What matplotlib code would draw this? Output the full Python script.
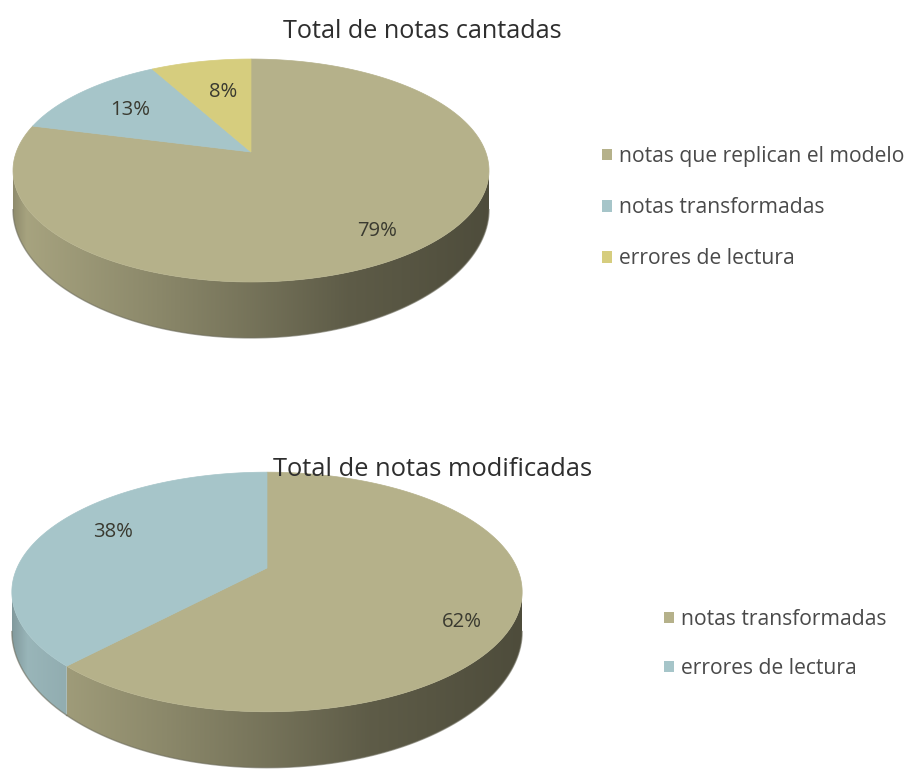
"""Two pseudo 3D pie charts, drawn in pixel space with a small perspective projection."""

import numpy as np
import matplotlib
matplotlib.use("Agg")
import matplotlib.pyplot as plt
from matplotlib.colors import to_rgb
from matplotlib.legend import Legend
from matplotlib.patches import Polygon, Patch

# Data
labels_top = ["notas que replican el modelo", "notas transformadas", "errores de lectura"]
values_top = [79, 13, 8]
title_top = "Total de notas cantadas"

labels_bottom = ["notas transformadas", "errores de lectura"]
values_bottom = [62, 38]
title_bottom = "Total de notas modificadas"

# Styles
OLIVE = "#b5b18a"
BLUE = "#a6c5c9"
YELLOW = "#d6cd7e"
TEXT = "#3a3a30"
FONT = ["Open Sans", "DejaVu Sans"]

colors_top = [OLIVE, BLUE, YELLOW]
colors_bottom = [OLIVE, BLUE]

# x fraction across the pie -> brightness of the side wall
shade_x = [0.0, 0.03, 0.3, 0.5, 0.7, 1.0]
shade_f = [0.78, 0.92, 0.77, 0.65, 0.52, 0.43]


def project(cx, cy, w, h, k, theta, r=1.0):
    """Disc point (angle clockwise from 12 o'clock, radius) to pixels."""
    u, v = r * np.sin(theta), r * np.cos(theta)
    d = 1 + k * v
    return cx + w * u / d, cy - h * v / d


def draw_pie(ax, values, colors, cx, cy, w, h, k, d_side, d_front):
    edges = np.radians(np.cumsum([0] + values) * 360.0 / sum(values))
    vis_a = np.arccos(-k)
    vis_b = 2 * np.pi - vis_a
    half = w * 1.02
    fracs = np.linspace(0, 1, 512)
    shade = np.interp(fracs, shade_x, shade_f)

    # side wall first, a horizontal gradient clipped to the visible arc of each slice
    for i, color in enumerate(colors):
        a, b = max(edges[i], vis_a), min(edges[i + 1], vis_b)
        if b <= a:
            continue
        thetas = np.linspace(a, b, 300)
        xs, ys = project(cx, cy, w, h, k, thetas)
        depth = d_side + (d_front - d_side) * np.clip(-np.cos(thetas), 0, 1) ** 1.5
        pts = np.column_stack([np.r_[xs, xs[::-1]], np.r_[ys, (ys + depth)[::-1]]])
        clip = Polygon(pts, facecolor="none", edgecolor="none", transform=ax.transData)
        ax.add_patch(clip)
        grad = np.outer(shade, to_rgb(color))[np.newaxis, :, :]
        im = ax.imshow(grad, extent=(cx - half, cx + half, cy + 250, cy - 150),
                       aspect="auto", interpolation="bilinear", zorder=1)
        im.set_clip_path(clip)
        ax.plot(xs, ys + depth, color="#6d6c5c", lw=1.0, alpha=0.6, zorder=1.5)

    # top face
    for i, color in enumerate(colors):
        thetas = np.linspace(edges[i], edges[i + 1], 200)
        xs, ys = project(cx, cy, w, h, k, thetas)
        pts = np.column_stack([np.r_[cx, xs], np.r_[cy, ys]])
        ax.add_patch(Polygon(pts, facecolor=color, edgecolor=color, linewidth=0.5, zorder=2))


def add_legend(ax, labels, colors, x, y, spacing):
    handles = [Patch(facecolor=c, edgecolor="none") for c in colors]
    leg = Legend(ax, handles, labels, loc="upper left", bbox_to_anchor=(x, y),
                 bbox_transform=ax.transData, frameon=False, borderpad=0, borderaxespad=0,
                 handlelength=0.48, handleheight=0.48, handletextpad=0.33,
                 labelspacing=spacing, prop={"family": FONT, "size": 15.2}, labelcolor="#4a4a4a")
    ax.add_artist(leg)


fig = plt.figure(figsize=(9.08, 7.69), dpi=100)
ax = fig.add_axes([0, 0, 1, 1])

draw_pie(ax, values_top, colors_top, 251, 152, 234.7, 108.4, 0.166, 38, 56)
draw_pie(ax, values_bottom, colors_bottom, 267, 568, 250, 115, 0.2, 38, 56)

ax.set_xlim(0, 908)
ax.set_ylim(769, 0)
ax.axis("off")

# percent labels
label_pos_top = [(377, 231), (130, 110), (223, 92)]
label_pos_bottom = [(462, 622), (113, 532)]
for vals, positions in ((values_top, label_pos_top), (values_bottom, label_pos_bottom)):
    for val, (x, y) in zip(vals, positions):
        ax.text(x, y, f"{val}%", ha="center", va="center", family=FONT, fontsize=14.6,
                color=TEXT, zorder=3)

ax.text(422, 32, title_top, ha="center", va="center", family=FONT, fontsize=18.2, color="#2e2e2e")
ax.text(433, 469, title_bottom, ha="center", va="center", family=FONT, fontsize=18.4, color="#2e2e2e")

add_legend(ax, labels_top, colors_top, 602, 146, 1.43)
add_legend(ax, labels_bottom, colors_bottom, 664, 609, 1.33)

fig.savefig("out.png", dpi=100)
